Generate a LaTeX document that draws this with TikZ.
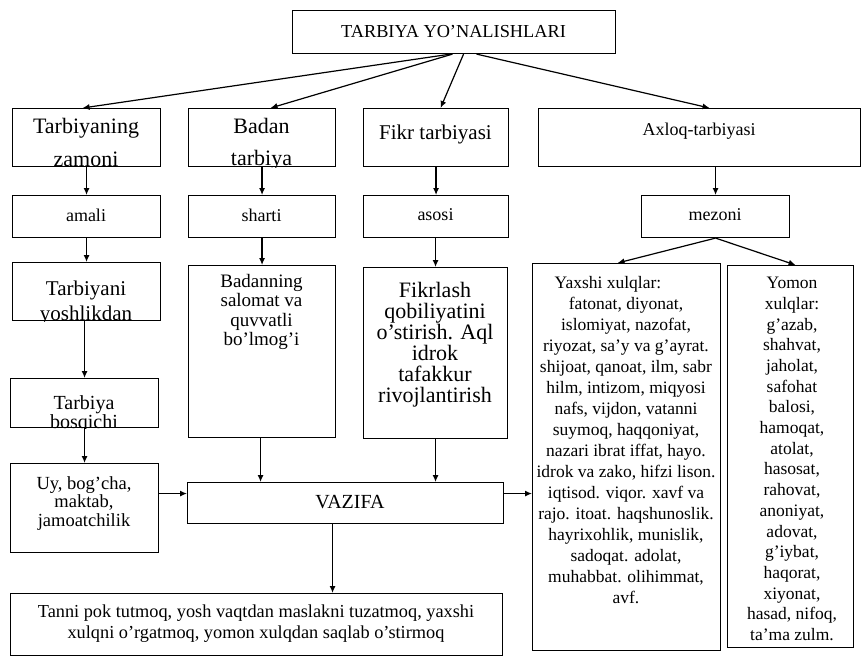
\documentclass[tikz,border=0pt]{standalone}
\usepackage{fontspec}
\setmainfont{Liberation Serif}
\usetikzlibrary{arrows.meta}
\newcommand\fs[2]{\fontsize{#1}{#2}\selectfont}
\newcommand\mkbox[5]{\node[box, minimum width={#4pt-#2pt}, minimum height={#5pt-#3pt}] (#1) at (#2,#3) {};}
\begin{document}
\begin{tikzpicture}[x=1pt,y=-1pt,
  box/.style={draw, line width=1.1pt, inner sep=0pt, anchor=north west},
  txt/.style={inner sep=0pt, align=center},
  arr/.style={line width=1.2pt, -{Latex[length=7pt,width=6pt]}},
]
\useasboundingbox[fill=white] (0,0) rectangle (862,658);

% boxes
\mkbox{title}{292}{10}{615}{53}
\mkbox{t1}{12}{108}{160}{166}
\mkbox{t2}{188}{108}{335}{166}
\mkbox{t3}{363}{108}{508}{166}
\mkbox{t4}{538}{108}{860}{166}
\mkbox{am}{12}{195}{160}{237}
\mkbox{sh}{188}{195}{335}{237}
\mkbox{as}{363}{195}{508}{237}
\mkbox{mz}{641}{195}{789}{237}
\mkbox{ty}{12}{262}{160}{320}
\mkbox{bd}{188}{265}{335}{437}
\mkbox{fk}{363}{267}{507}{438}
\mkbox{tb}{10}{378}{158}{427}
\mkbox{uy}{10}{463}{158}{552}
\mkbox{vz}{187}{482}{503}{523}
\mkbox{bt}{10}{593}{502}{655}
\mkbox{yx}{532}{263}{720}{650}
\mkbox{ym}{727}{265}{853}{647}

% texts
\node[txt, font=\fs{18.3}{18}] (titletxt) at (453.5,31.5) {TARBIYA YO'NALISHLARI};
\begin{scope}
  \clip (t1.north west) rectangle (t1.south east);
  \node[txt, anchor=base, font=\fs{22}{22}] (t1a) at (86,134) {Tarbiyaning};
  \node[txt, anchor=base, font=\fs{22}{22}] (t1b) at (86,167) {zamoni};
\end{scope}
\begin{scope}
  \clip (t2.north west) rectangle (t2.south east);
  \node[txt, anchor=base, font=\fs{22}{22}] (t2a) at (261.5,134) {Badan};
  \node[txt, anchor=base, font=\fs{22}{22}] (t2b) at (261.5,165) {tarbiya};
\end{scope}
\node[txt, font=\fs{21}{21}] (t3txt) at (435.5,134) {Fikr tarbiyasi};
\node[txt, font=\fs{18}{18}] (t4txt) at (699,131) {Axloq-tarbiyasi};
\node[txt, font=\fs{18}{18}] (amtxt) at (86,215) {amali};
\node[txt, font=\fs{18}{18}] (shtxt) at (261.5,215) {sharti};
\node[txt, font=\fs{18}{18}] (astxt) at (435.5,215) {asosi};
\node[txt, font=\fs{18}{18}] (mztxt) at (715,215) {mezoni};
\begin{scope}
  \clip (ty.north west) rectangle (ty.south east);
  \node[txt, anchor=base, font=\fs{21}{21}] (tya) at (86,295) {Tarbiyani};
  \node[txt, anchor=base, font=\fs{21}{21}] (tyb) at (86,320) {yoshlikdan};
\end{scope}
\node[txt, font=\fs{19}{19.5}] (bdtxt) at (261.5,312) {Badanning\\salomat va\\quvvatli\\bo'lmog'i};
\node[txt, font=\fs{22}{21}] (fktxt) at (435,345) {Fikrlash\\qobiliyatini\\o'stirish. Aql\\idrok\\tafakkur\\rivojlantirish};
\begin{scope}
  \clip (tb.north west) rectangle (tb.south east);
  \node[txt, anchor=base, font=\fs{20}{20}] (tba) at (84,409) {Tarbiya};
  \node[txt, anchor=base, font=\fs{20}{20}] (tbb) at (84,428) {bosqichi};
\end{scope}
\node[txt, font=\fs{18.5}{18.5}] (uytxt) at (84,503.5) {Uy, bog'cha,\\maktab,\\jamoatchilik};
\node[txt, font=\fs{20}{20}] (vztxt) at (350,502) {VAZIFA};
\node[txt, font=\fs{18.3}{21}] (bttxt) at (256,623.5) {Tanni pok tutmoq, yosh vaqtdan maslakni tuzatmoq, yaxshi\\xulqni o'rgatmoq, yomon xulqdan saqlab o'stirmoq};
\node[txt, font=\fs{17.5}{21}] (yxtxt) at (626,440.5) {\hspace*{-36pt}Yaxshi xulqlar:\\fatonat, diyonat,\\islomiyat, nazofat,\\riyozat, sa'y va g'ayrat.\\shijoat, qanoat, ilm, sabr\\hilm, intizom, miqyosi\\nafs, vijdon, vatanni\\suymoq, haqqoniyat,\\nazari ibrat iffat, hayo.\\idrok va zako, hifzi lison.\\iqtisod. viqor. xavf va\\rajo. itoat. haqshunoslik.\\hayrixohlik, munislik,\\sadoqat. adolat,\\muhabbat. olihimmat,\\avf.};
\node[txt, font=\fs{17.5}{20.7}] (ymtxt) at (792,459) {Yomon\\xulqlar:\\g'azab,\\shahvat,\\jaholat,\\safohat\\balosi,\\hamoqat,\\atolat,\\hasosat,\\rahovat,\\anoniyat,\\adovat,\\g'iybat,\\haqorat,\\xiyonat,\\hasad, nifoq,\\ta'ma zulm.};

% connectors
\draw[arr] ([xshift=-3.5pt]title.south) -- ([xshift=-4pt]t1.north);
\draw[arr] ([xshift=-1.5pt]title.south) -- ([xshift=8.5pt]t2.north);
\draw[arr] ([xshift=9.5pt]title.south) -- ([xshift=4.5pt]t3.north);
\draw[arr] ([xshift=22.5pt]title.south) -- ([xshift=10pt]t4.north);
\draw[arr] (t1) -- (am);
\draw[arr] (t2) -- (sh);
\draw[arr] (t3) -- (as);
\draw[arr] (mz.north |- t4.south) -- (mz.north);
\draw[arr] (am.south -| ty.north) -- (ty.north);
\draw[arr] (sh.south -| bd.north) -- (bd.north);
\draw[arr] (as.south -| fk.north) -- (fk.north);
\draw[arr] (ty.south -| tb.north) -- (tb.north);
\draw[arr] (tb) -- (uy);
\coordinate (vzin) at ([yshift=9.5pt]vz.west);
\coordinate (vzout) at ([yshift=9.5pt]vz.east);
\draw[arr] (uy.east |- vzin) -- (vzin);
\draw[arr] (vzout) -- (yx.west |- vzout);
\draw[arr] ([xshift=-1.5pt]bd.south) -- ([xshift=-1.5pt]bd.south |- vz.north);
\draw[arr] (fk.south) -- (fk.south |- vz.north);
\draw[arr] ([xshift=-13pt]vz.south) -- ([xshift=-13pt]vz.south |- bt.north);
\draw[arr] (mz.south) -- ([xshift=-9pt]yx.north);
\draw[arr] (mz.south) -- ([xshift=5pt]ym.north);
\end{tikzpicture}
\end{document}
